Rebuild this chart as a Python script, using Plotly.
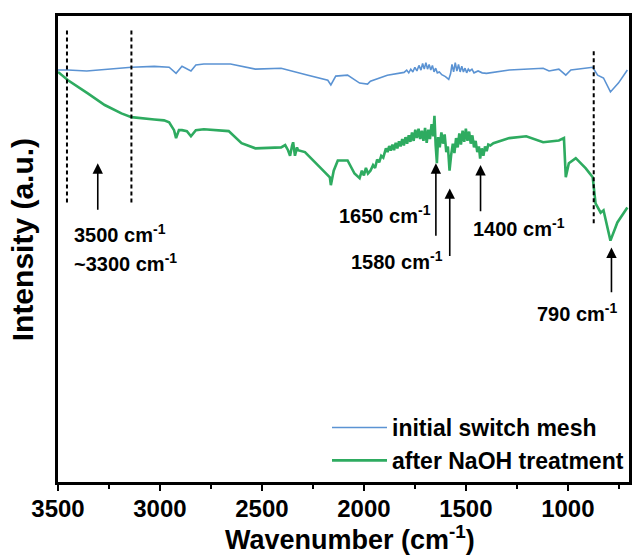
import plotly.graph_objects as go

# ---------------- data ----------------
wn_initial = [3500, 3451, 3359, 3247, 3140, 3028, 2955, 2921, 2892, 2848, 2824, 2785,
              2654, 2532, 2406, 2274, 2177, 2162, 2138, 2080, 2021, 1982, 1968, 1885,
              1803, 1790, 1780, 1770, 1760, 1750, 1740, 1730, 1720, 1712, 1704, 1696,
              1688, 1680, 1672, 1664, 1656, 1648, 1640, 1630, 1618, 1600, 1584, 1575,
              1568, 1560, 1552, 1544, 1536, 1528, 1520, 1512, 1504, 1496, 1488, 1481,
              1470, 1460, 1440, 1420, 1399, 1287, 1121, 1092, 1044, 1010, 985, 878,
              854, 825, 791, 752, 708]
int_initial = [88.4, 88.4, 88.2, 88.6, 89.0, 89.2, 89.0, 87.7, 89.2, 88.2, 89.5, 89.7,
               89.7, 88.6, 88.8, 87.3, 86.2, 85.2, 87.1, 87.3, 85.6, 85.4, 86.0, 87.3,
               87.9, 88.4, 87.8, 88.6, 88.0, 89.0, 88.2, 89.4, 88.4, 89.8, 88.6, 90.0,
               88.6, 89.6, 88.4, 89.4, 88.0, 88.8, 87.8, 88.0, 87.4, 87.0, 86.4, 87.6,
               89.6, 88.0, 90.0, 88.2, 89.6, 88.0, 89.2, 88.0, 88.8, 87.8, 88.6, 88.2,
               88.6, 87.8, 88.2, 87.8, 87.7, 88.4, 88.8, 88.2, 88.6, 87.3, 88.4, 89.0,
               87.3, 86.7, 83.7, 85.6, 88.4]

wn_naoh = [3500, 3451, 3354, 3271, 3189, 3140, 3028, 2980, 2955, 2931, 2921, 2907,
           2892, 2868, 2848, 2824, 2785, 2663, 2600, 2532, 2406, 2386, 2372, 2362,
           2352, 2347, 2338, 2328, 2323, 2289, 2226, 2167, 2162, 2148, 2128, 2080,
           2046, 2021, 2010, 2000, 1990, 1980, 1968, 1955, 1945, 1935, 1925, 1915,
           1905, 1900, 1892, 1884, 1876, 1868, 1860, 1852, 1844, 1836, 1828, 1820,
           1812, 1804, 1796, 1788, 1780, 1772, 1764, 1756, 1748, 1740, 1732, 1724,
           1716, 1708, 1700, 1692, 1684, 1676, 1668, 1660, 1654, 1648, 1642, 1636,
           1628, 1620, 1612, 1604, 1596, 1588, 1580, 1572, 1564, 1556, 1548, 1540,
           1532, 1524, 1516, 1508, 1500, 1492, 1484, 1476, 1468, 1460, 1452, 1444,
           1436, 1430, 1422, 1414, 1406, 1398, 1390, 1380, 1365, 1287, 1204, 1121,
           1044, 1019, 1010, 995, 961, 912, 878, 864, 839, 825, 791, 757, 708]
int_naoh = [88.0, 86.2, 83.4, 80.9, 79.1, 78.3, 77.8, 77.6, 77.2, 75.5, 73.8, 75.5,
            75.5, 75.3, 74.2, 75.5, 75.7, 75.3, 72.7, 71.6, 71.8, 72.3, 71.2, 70.0,
            72.2, 72.9, 70.0, 71.8, 71.2, 70.8, 68.0, 65.4, 63.7, 66.8, 69.0, 69.0,
            66.2, 65.2, 66.8, 65.8, 67.4, 66.2, 66.8, 68.0, 67.4, 69.2, 68.6, 70.0,
            69.6, 70.4, 71.6, 70.8, 72.1, 71.1, 72.4, 71.2, 72.8, 71.6, 73.1, 72.0,
            73.6, 72.2, 74.0, 72.6, 74.4, 73.0, 75.0, 73.2, 75.6, 73.8, 75.8, 73.6,
            75.4, 73.2, 76.0, 72.8, 75.6, 73.6, 76.8, 74.2, 78.6, 72.2, 68.4, 74.0,
            71.8, 75.0, 72.6, 74.6, 70.8, 72.0, 66.8, 70.2, 72.6, 70.6, 73.8, 71.8,
            74.8, 72.4, 75.4, 73.0, 75.8, 73.2, 75.2, 72.6, 74.4, 71.8, 73.2, 70.8,
            72.0, 69.4, 71.6, 70.0, 72.0, 71.0, 72.4, 72.2, 72.7, 73.8, 74.2, 72.9,
            73.3, 73.8, 65.4, 68.4, 69.5, 67.3, 65.4, 59.8, 57.8, 58.3, 51.8, 55.7, 58.9]

series_names = ["initial switch mesh", "after NaOH treatment"]
series_colors = ["#5b93d3", "#2eab60"]

x_ticks = [3500, 3000, 2500, 2000, 1500, 1000]

# annotation content
dash_x = [3456, 3140, 873]
dash_y0 = [60.0, 60.0, 55.5]
dash_y1 = [97.0, 97.0, 92.7]

arrow_x = [3305, 1647, 1579, 1428, 786]
arrow_head = [68.4, 68.4, 63.0, 68.0, 50.3]
arrow_tail = [58.1, 52.5, 48.2, 57.8, 40.4]

label_text = ["3500 cm<sup>-1</sup>", "~3300 cm<sup>-1</sup>", "1650 cm<sup>-1</sup>",
              "1580 cm<sup>-1</sup>", "1400 cm<sup>-1</sup>", "790 cm<sup>-1</sup>"]
label_x = [3432, 3432, 2133, 2075, 1477, 1160]
label_y = [53.3, 47.1, 57.4, 47.5, 54.6, 36.3]

FONT = "Liberation Sans, Arial, sans-serif"

fig = go.Figure()
fig.add_trace(go.Scatter(x=wn_initial, y=int_initial, mode="lines", name=series_names[0],
                         line=dict(color=series_colors[0], width=1.6)))
fig.add_trace(go.Scatter(x=wn_naoh, y=int_naoh, mode="lines", name=series_names[1],
                         line=dict(color=series_colors[1], width=2.6)))

for x, y0, y1 in zip(dash_x, dash_y0, dash_y1):
    fig.add_shape(type="line", x0=x, x1=x, y0=y0, y1=y1, xref="x", yref="y",
                  line=dict(color="black", width=2, dash="4px,3px"))

for x, yh, yt in zip(arrow_x, arrow_head, arrow_tail):
    fig.add_annotation(x=x, y=yh, ax=x, ay=yt, xref="x", yref="y", axref="x", ayref="y",
                       text="", showarrow=True, arrowhead=2, arrowsize=1.3, arrowwidth=1.6,
                       arrowcolor="black")

for t, x, y in zip(label_text, label_x, label_y):
    fig.add_annotation(x=x, y=y, xref="x", yref="y", text=t, showarrow=False,
                       xanchor="left", yanchor="middle",
                       font=dict(family=FONT, size=20, color="black", weight="bold"))

# axis titles as annotations for exact placement
fig.add_annotation(x=0.512, y=-0.120, xref="paper", yref="paper", showarrow=False,
                   text="Wavenumber (cm<sup>-1</sup>)", xanchor="center", yanchor="middle",
                   font=dict(family=FONT, size=27, color="black", weight="bold"))
fig.add_annotation(x=-0.062, y=0.52, xref="paper", yref="paper", showarrow=False,
                   text="Intensity (a.u.)", textangle=-90, xanchor="center", yanchor="middle",
                   font=dict(family=FONT, size=30, color="black", weight="bold"))

fig.update_layout(
    width=634, height=557,
    margin=dict(l=58, r=2, t=16, b=75),
    paper_bgcolor="white", plot_bgcolor="white",
    font=dict(family=FONT, color="black", weight="bold"),
    showlegend=True,
    legend=dict(x=1, y=0, xanchor="right", yanchor="bottom", bgcolor="rgba(0,0,0,0)",
                font=dict(family=FONT, size=23, color="black", weight="bold"),
                itemwidth=55, tracegroupgap=0),
)
fig.update_xaxes(range=[3500, 700], tickmode="array", tickvals=x_ticks,
                 ticktext=[str(v) for v in x_ticks],
                 ticks="outside", ticklen=6, tickwidth=2, tickcolor="black",
                 ticklabelstandoff=-3,
                 minor=dict(dtick=250, tick0=0, ticks="outside", ticklen=4, tickwidth=2, tickcolor="black"),
                 showline=True, linewidth=2.5, linecolor="black", mirror=True,
                 showgrid=False, zeroline=False,
                 tickfont=dict(family=FONT, size=24, color="black", weight="bold"))
fig.update_yaxes(range=[0, 100], showticklabels=False, ticks="",
                 showline=True, linewidth=2.5, linecolor="black", mirror=True,
                 showgrid=False, zeroline=False)

fig.write_html("out.html")
